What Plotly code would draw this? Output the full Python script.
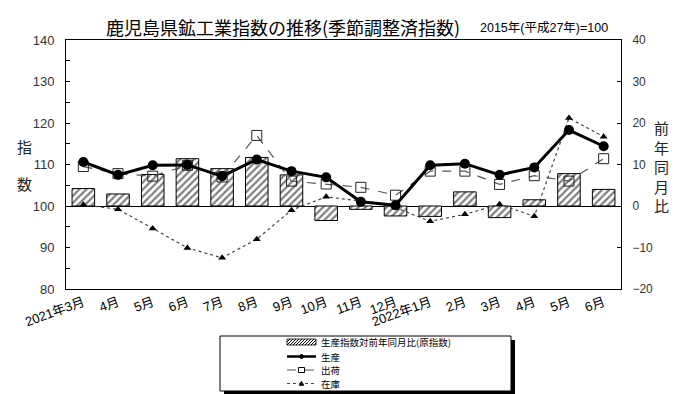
import plotly.graph_objects as go

# ---------------- data ----------------
months = ["2021年3月", "4月", "5月", "6月", "7月", "8月", "9月", "10月", "11月", "12月",
          "2022年1月", "2月", "3月", "4月", "5月", "6月"]
yoy = [4.2, 2.9, 7.6, 11.4, 9.0, 11.7, 7.5, -3.5, -0.8, -2.4, -2.5, 3.4, -2.8, 1.5, 7.8, 4.0]
production = [110.6, 107.5, 109.8, 109.9, 107.2, 111.2, 108.4, 106.9, 101.0, 100.2,
              109.8, 110.2, 107.5, 109.3, 118.3, 114.4]
shipments = [109.5, 107.8, 107.2, 109.8, 107.0, 117.0, 106.0, 105.3, 104.5, 102.6,
             108.4, 108.4, 105.2, 107.3, 106.0, 111.4]
inventory = [100.3, 99.2, 94.6, 89.9, 87.5, 92.0, 99.0, 102.2, 101.2, 99.6,
             96.3, 98.0, 100.4, 97.5, 121.2, 116.7]
series_names = ["生産指数対前年同月比(原指数)", "生産", "出荷", "在庫"]
title_text = "鹿児島県鉱工業指数の推移(季節調整済指数)"
subtitle_text = "2015年(平成27年)=100"

xpos = list(range(len(months)))

W, H = 700, 394
L, R, T, B = 58, 613, 32, 281  # plot area in pixels


def px(x):
    return (x - L) / (R - L)


def py(y):
    return (B - y) / (B - T)


FONT = "Liberation Sans, Noto Sans CJK JP, sans-serif"
CJK = "Noto Sans CJK JP, sans-serif"

fig = go.Figure()

fig.add_trace(go.Bar(
    x=xpos, y=yoy, name=series_names[0], yaxis="y", width=0.65,
    marker=dict(color="white", line=dict(color="black", width=1),
                pattern=dict(shape="/", fgcolor="black", bgcolor="white", size=5, solidity=0.45)),
    showlegend=False,
))
fig.add_trace(go.Scatter(
    x=xpos, y=shipments, name=series_names[2], yaxis="y2", mode="lines+markers",
    line=dict(color="#555555", width=1.2, dash="dash"),
    marker=dict(symbol="square-open", size=10, color="#222222", line=dict(width=1)),
    showlegend=False,
))
fig.add_trace(go.Scatter(
    x=xpos, y=inventory, name=series_names[3], yaxis="y2", mode="lines+markers",
    line=dict(color="#444444", width=1.2, dash="dot"),
    marker=dict(symbol="triangle-up", size=7, color="black"),
    showlegend=False,
))
fig.add_trace(go.Scatter(
    x=xpos, y=production, name=series_names[1], yaxis="y2", mode="lines+markers",
    line=dict(color="black", width=3),
    marker=dict(symbol="circle", size=10, color="black"),
    showlegend=False,
))

# ---------------- manual legend ----------------
shapes = []
# shadow + box
shapes.append(dict(type="rect", xref="paper", yref="paper",
                   x0=px(216), x1=px(507), y0=py(387), y1=py(332),
                   fillcolor="black", line=dict(width=0), layer="above"))
shapes.append(dict(type="rect", xref="paper", yref="paper",
                   x0=px(212), x1=px(503), y0=py(383), y1=py(328),
                   fillcolor="white", line=dict(color="black", width=1), layer="above"))
sx0, sx1 = 279, 308
rows = [334, 348.5, 362, 375.5]
# hatched swatch
hy0, hy1 = rows[0] - 3, rows[0] + 3
shapes.append(dict(type="rect", xref="paper", yref="paper",
                   x0=px(sx0), x1=px(sx1), y0=py(hy1), y1=py(hy0),
                   fillcolor="white", line=dict(color="black", width=0.8), layer="above"))
segs = []
hh = hy1 - hy0
xs = sx0 - hh
while xs < sx1:
    ax, ay = xs, hy1
    bx, by = xs + hh, hy0
    if ax < sx0:
        ay = hy1 - (sx0 - ax)
        ax = sx0
    if bx > sx1:
        by = hy0 + (bx - sx1)
        bx = sx1
    segs.append(f"M{px(ax)},{py(ay)} L{px(bx)},{py(by)}")
    xs += 3
shapes.append(dict(type="path", xref="paper", yref="paper", path=" ".join(segs),
                   line=dict(color="black", width=1), layer="above"))
# production sample
shapes.append(dict(type="line", xref="paper", yref="paper", x0=px(sx0), x1=px(sx1),
                   y0=py(rows[1]), y1=py(rows[1]), line=dict(color="black", width=2.5), layer="above"))
shapes.append(dict(type="circle", xref="paper", yref="paper", x0=px(291.5), x1=px(295.5),
                   y0=py(rows[1] + 2), y1=py(rows[1] - 2), fillcolor="black",
                   line=dict(color="black", width=1), layer="above"))
# shipments sample
shapes.append(dict(type="line", xref="paper", yref="paper", x0=px(sx0), x1=px(sx1),
                   y0=py(rows[2]), y1=py(rows[2]), line=dict(color="#555555", width=1, dash="dash"),
                   layer="above"))
shapes.append(dict(type="rect", xref="paper", yref="paper", x0=px(290.5), x1=px(296.5),
                   y0=py(rows[2] + 2.5), y1=py(rows[2] - 2.5), fillcolor="white",
                   line=dict(color="black", width=1), layer="above"))
# inventory sample
shapes.append(dict(type="line", xref="paper", yref="paper", x0=px(sx0), x1=px(sx1),
                   y0=py(rows[3]), y1=py(rows[3]), line=dict(color="#444444", width=1, dash="dot"),
                   layer="above"))
tx = 293.5
shapes.append(dict(type="path", xref="paper", yref="paper",
                   path=f"M{px(tx-2.5)},{py(rows[3]+2)} L{px(tx+2.5)},{py(rows[3]+2)} L{px(tx)},{py(rows[3]-2.5)} Z",
                   fillcolor="black", line=dict(color="black", width=0.5), layer="above"))

annotations = []
for name, ry in zip(series_names, rows):
    annotations.append(dict(text=name, xref="paper", yref="paper", x=px(311), y=py(ry),
                            xanchor="left", yanchor="middle", showarrow=False,
                            font=dict(family=CJK, size=9.5, color="black")))

# titles
annotations.append(dict(text=title_text, xref="paper", yref="paper", x=px(96), y=py(19),
                        xanchor="left", yanchor="middle", showarrow=False,
                        font=dict(family=CJK, size=18, color="black", weight=400)))
annotations.append(dict(text=subtitle_text, xref="paper", yref="paper", x=px(470), y=py(20),
                        xanchor="left", yanchor="middle", showarrow=False,
                        font=dict(family=FONT, size=12.5, color="black")))
annotations.append(dict(text="指", xref="paper", yref="paper", x=px(16), y=py(138),
                        xanchor="center", yanchor="middle", showarrow=False,
                        font=dict(family=CJK, size=15, color="#222222")))
annotations.append(dict(text="数", xref="paper", yref="paper", x=px(16), y=py(175),
                        xanchor="center", yanchor="middle", showarrow=False,
                        font=dict(family=CJK, size=15, color="#222222")))
annotations.append(dict(text="前<br>年<br>同<br>月<br>比", xref="paper", yref="paper",
                        x=px(653), y=py(158), xanchor="center", yanchor="middle", showarrow=False,
                        font=dict(family=CJK, size=15, color="#222222")))

fig.update_layout(
    width=W, height=H,
    margin=dict(l=L, r=W - R, t=T, b=H - B),
    paper_bgcolor="white", plot_bgcolor="white",
    showlegend=False,
    bargap=0.35,
    xaxis=dict(
        tickvals=xpos, ticktext=months, range=[-0.5, len(months) - 0.5],
        tickangle=-20, showline=True, mirror=True, linecolor="black", linewidth=1,
        showgrid=False, zeroline=False, ticks="",
        tickfont=dict(family=FONT, size=13, color="black"),
    ),
    yaxis=dict(
        side="right", range=[-20, 40], dtick=10, showline=True, linecolor="black", linewidth=1,
        showgrid=False, zeroline=True, zerolinecolor="black", zerolinewidth=1,
        ticks="inside", ticklen=4, tickcolor="black", ticklabelstandoff=8,
        tickfont=dict(family=FONT, size=12, color="#333333"),
    ),
    yaxis2=dict(
        side="left", overlaying="y", range=[80, 140], dtick=10, showline=True,
        linecolor="black", linewidth=1, showgrid=False, zeroline=False,
        ticks="inside", ticklen=4, tickcolor="black", ticklabelstandoff=8,
        minor=dict(dtick=5, ticks="inside", ticklen=4, tickcolor="black"),
        tickfont=dict(family=FONT, size=13, color="#333333"),
    ),
    shapes=shapes,
    annotations=annotations,
)

fig.write_html("out.html")
